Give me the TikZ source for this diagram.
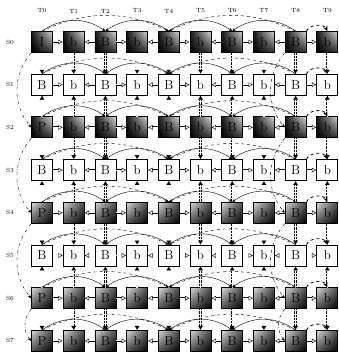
\documentclass[tikz,border=0pt]{standalone}
\usetikzlibrary{arrows.meta,shadings}
\tikzset{
  lbl/.style={font=\fontsize{6}{7}\selectfont},
  frame/.style={draw, line width=0.8pt, minimum size=21pt, inner sep=0pt, fill=white, font=\fontsize{13}{13}\selectfont},
  darkleft/.style={frame, upper left=black!90, lower left=black, lower right=black!80, upper right=black!15},
  darkright/.style={frame, upper left=black!15, upper right=black!70, lower left=black!70, lower right=black},
  plain/.style={frame},
  hop/.style={-{Latex[open,length=4.5pt,width=5pt]}, double, double distance=1pt, line width=0.4pt},
  ivp/.style={-{Latex[length=4pt,width=5pt]}, densely dotted, double, double distance=1.4pt, line width=0.45pt},
  near/.style={-{Stealth[length=3.5pt,width=3pt]}, line width=0.4pt},
  far/.style={-{Stealth[length=3.5pt,width=3pt]}, dashed, line width=0.4pt},
  view/.style={-{Stealth[length=3.5pt,width=3pt]}, dash dot, line width=0.4pt},
  tail/.style={-{Stealth[length=5pt,width=4.5pt]}, dashed, line width=0.8pt}
}
\begin{document}
\begin{tikzpicture}[x=1pt, y=1pt]
  \useasboundingbox (0,0) rectangle (339,356);
  % time and view labels
  \foreach \t in {0,...,9}
    \node[lbl] (t\t) at (42+31.7*\t, 345) {T\t};
  \foreach \s in {0,...,7}
    \node[lbl] (s\s) at (10, 314-42.7*\s) {S\s};
  % frames
  \foreach \s/\kind/\key in {0/darkleft/I, 1/plain/B, 2/darkleft/P, 3/plain/B,
                             4/darkright/P, 5/plain/B, 6/darkright/P, 7/darkright/P}
    \foreach \t in {0,...,9} {
      \ifodd\t \def\lab{b}\else \def\lab{B}\fi
      \ifnum\t=0 \let\lab\key\fi
      \node[\kind] (f\s-\t) at (42+31.7*\t, 314-42.7*\s) {\lab};
    }
  % neighbours in time
  \foreach \s in {0,...,7} {
    \foreach \t in {1,3,5,7,9} {
      \pgfmathtruncatemacro\tl{\t-1}
      \draw[hop] (f\s-\tl) -- (f\s-\t);
    }
    \foreach \t in {1,3,5,7} {
      \pgfmathtruncatemacro\tr{\t+1}
      \draw[hop] (f\s-\tr) -- (f\s-\t);
    }
  }
  % between views
  \foreach \a/\b in {0/1, 2/1, 2/3, 4/3, 4/5, 6/5, 6/7}
    \foreach \t in {0,...,9}
      \draw[ivp] (f\a-\t) -- (f\b-\t);
  % hierarchy arcs
  \foreach \s in {0,...,7} {
    \draw[far] (f\s-0.north) to[bend left=25] (f\s-4.north);
    \draw[far] (f\s-8.north) to[bend right=25] (f\s-4.north);
    \draw[near] (f\s-0.north) to[bend left=35] (f\s-2.north);
    \draw[near] (f\s-4.north) to[bend right=35] (f\s-2.north);
    \draw[near] (f\s-4.north) to[bend left=35] (f\s-6.north);
    \draw[near] (f\s-8.north) to[bend right=35] (f\s-6.north);
    \draw[tail] (f\s-8.north east) to[bend left=65] (f\s-9.north);
  }
  % key frames across views
  \foreach \a/\b in {0/2, 2/4, 4/6, 6/7} {
    \draw[view] (f\a-0.south west) to[bend right=40] (f\b-0.west);
    \draw[view] (f\a-8.south west) to[bend right=40] (f\b-8.west);
  }
\end{tikzpicture}
\end{document}
